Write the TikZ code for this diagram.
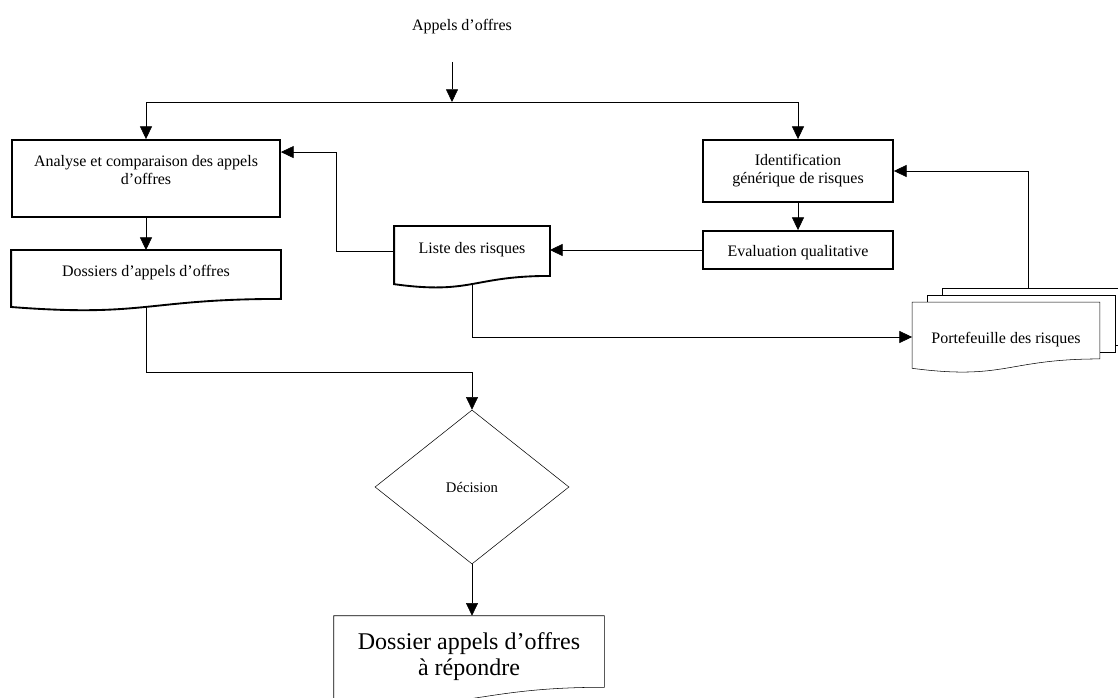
\documentclass[tikz,border=0pt]{standalone}
\usepackage{fontspec}
\setmainfont{Liberation Serif}
\usetikzlibrary{arrows.meta,calc,shapes.geometric,backgrounds}

% document symbol: box with a wavy bottom edge, drawn round a node
\newcommand\docframe[2][]{%
  \draw[#1] let \p1=(#2.north west), \p2=(#2.south east), \n1={\y1-\y2} in
    (\x1,\y1) -- (\x2,\y1) -- (\x2,\y2)
    .. controls ({(\x1+\x2)/2},\y2) and ({(\x1+\x2)/2},{\y2-0.38*\n1}) .. (\x1,{\y2-0.165*\n1}) -- cycle;
  \path let \p1=(#2.north west), \p2=(#2.south east), \n1={\y1-\y2} in
    ({(\x1+\x2)/2},{\y2-0.163*\n1}) coordinate (#2-b);}

\begin{document}
\begin{tikzpicture}[x=0.75pt,y=-0.75pt, line width=1.4pt,
  every node/.style={font=\fontsize{12}{13.5}\selectfont, inner sep=0pt},
  box/.style={draw, rectangle, align=center},
  docnode/.style={rectangle, align=center},
  link/.style={-{Triangle[length=9.5pt,width=9pt]}}]
\useasboundingbox (0,0) rectangle (1118,698);

% entree
\node (appels) at (462,27) {Appels d’offres};
\coordinate (arrivee) at (452,62);
\coordinate (split) at (452,102);

% boites
\node[box, minimum width=201pt, minimum height=57.75pt, text height=13pt, text depth=4pt] (analyse) at (146,178.5) {Analyse et comparaison des appels\\ d’offres};
\node[box, minimum width=142.5pt, minimum height=46.5pt] (identif) at (798,171) {Identification\\ générique de risques};
\node[box, minimum width=142.5pt, minimum height=28.5pt, text height=12pt] (evalq) at (798,250) {Evaluation qualitative};

% documents
\node[docnode, minimum width=201pt, minimum height=35.25pt, text depth=5.5pt] (dossiers) at (146,274.5) {Dossiers d’appels d’offres};
\docframe{dossiers}
\node[docnode, minimum width=115.5pt, minimum height=36pt, text depth=5pt] (liste) at (472,251) {Liste des risques};
\docframe{liste}

% portefeuille (pile de documents)
\node[docnode, minimum width=139.5pt, minimum height=41.25pt, text height=21.7pt] (port) at (1006,330.5) {Portefeuille des risques};
\node[docnode, minimum width=139.5pt, minimum height=41.25pt] (port2) at ($(port)+(15,-7)$) {};
\node[docnode, minimum width=139.5pt, minimum height=41.25pt] (port3) at ($(port)+(30,-14)$) {};
\begin{pgfonlayer}{background}
  \draw[fill=white] (port3.north west) rectangle (port3.south east);
  \draw[fill=white] (port2.north west) rectangle (port2.south east);
  \docframe[fill=white]{port}
\end{pgfonlayer}

% decision
\node[draw, diamond, minimum width=145.5pt, minimum height=115.5pt, font=\fontsize{11}{13}\selectfont] (decision) at (472,487) {Décision};
\node[docnode, minimum width=202.5pt, minimum height=53.25pt, text height=40pt, font=\fontsize{18}{19.5}\selectfont] (final) at (469,651.5) {Dossier appels d’offres\\ à répondre};
\docframe{final}

% liaisons
\draw[link] (arrivee) -- (split);
\draw[link] (split) -| (analyse.north);
\draw[link] (split) -| (identif.north);
\draw[link] (analyse.south) -- (dossiers.north);
\draw[link] (identif.south) -- (evalq.north);
\draw[link] (evalq.west) -- (evalq.west -| liste.east);
\draw[link] (liste.west) -- ++(-58,0) |- ($(analyse.north east)+(0,13)$);
\draw[link] (liste-b) |- ($(port.west)+(0,6.5)$);
\draw[link] ($(port3.north)+(-8,0)$) |- (identif.east);
\draw[link] (dossiers-b) -- ++(0,65.3) -| (decision.north);
\draw[link] (decision.south) -- (decision.south |- final.north);
\end{tikzpicture}
\end{document}
